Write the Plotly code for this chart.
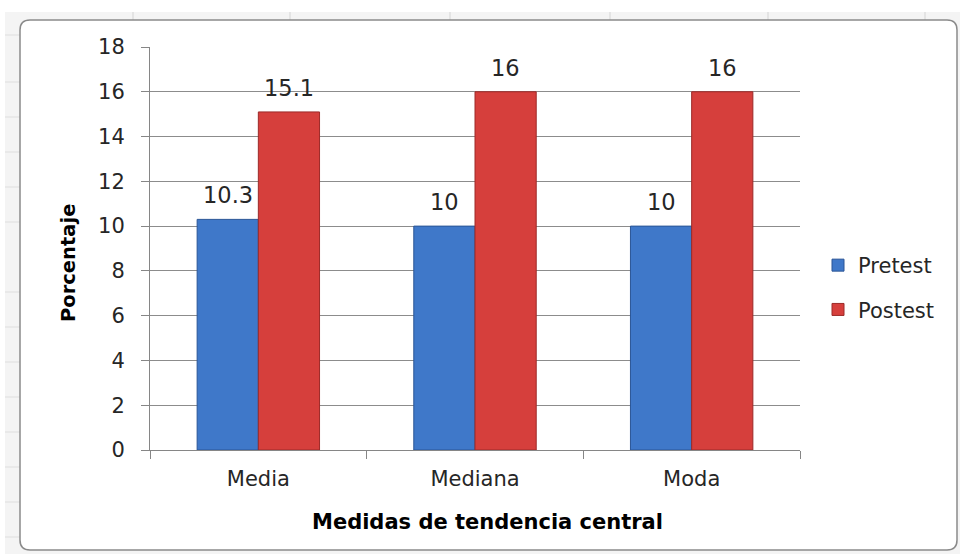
import plotly.graph_objects as go

categories = ["Media", "Mediana", "Moda"]
pretest = [10.3, 10, 10]
postest = [15.1, 16, 16]
pretest_labels = ["10.3", "10", "10"]
postest_labels = ["15.1", "16", "16"]
y_ticks = [0, 2, 4, 6, 8, 10, 12, 14, 16, 18]

FONT = "DejaVu Sans, sans-serif"
W, H = 960, 554
L, R, T, B = 150, 160, 47, 104
PW, PH = W - L - R, H - T - B
BARGAP = 0.435


def px(x):
    return (x - L) / PW


def py(y):
    return (H - B - y) / PH


fig = go.Figure()
fig.add_trace(go.Bar(
    x=categories, y=pretest, name="Pretest",
    marker=dict(color="#3f78c9", line=dict(color="#2a5596", width=1)),
    legendgroup="a",
))
fig.add_trace(go.Bar(
    x=categories, y=postest, name="Postest",
    marker=dict(color="#d63f3c", line=dict(color="#9c2a28", width=1)),
    legendgroup="b",
))

# data labels placed above each bar (category index +/- quarter of group width)
off = (1 - BARGAP) / 4
annotations = []
for i, (v, t) in enumerate(zip(pretest, pretest_labels)):
    annotations.append(dict(x=i - off, y=v, xref="x", yref="y", text=t,
                            showarrow=False, yshift=24, yanchor="middle",
                            font=dict(size=22.5, color="#262626")))
for i, (v, t) in enumerate(zip(postest, postest_labels)):
    annotations.append(dict(x=i + off, y=v, xref="x", yref="y", text=t,
                            showarrow=False, yshift=24, yanchor="middle",
                            font=dict(size=22.5, color="#262626")))
annotations += [
    dict(text="<b>Porcentaje</b>", xref="paper", yref="paper",
         x=px(68), y=py(263), textangle=-90, showarrow=False,
         font=dict(size=19.5, color="black"), xanchor="center", yanchor="middle"),
    dict(text="<b>Medidas de tendencia central</b>", xref="paper", yref="paper",
         x=px(487), y=py(522), showarrow=False,
         font=dict(size=21, color="black"), xanchor="center", yanchor="middle"),
]

shapes = []
shapes.append(dict(type="rect", xref="paper", yref="paper", layer="below",
                   x0=px(5), x1=px(960), y0=py(554), y1=py(12),
                   fillcolor="#f4f4f4", line=dict(width=0)))
for gx in [133, 290, 450, 610, 768, 925]:
    shapes.append(dict(type="line", xref="paper", yref="paper", layer="below",
                       x0=px(gx), x1=px(gx), y0=py(20), y1=py(12),
                       line=dict(color="#d4d4d4", width=1)))
for gy in [35, 82, 117, 152, 187, 222, 292, 327, 362, 397, 432, 467, 502, 537]:
    shapes.append(dict(type="line", xref="paper", yref="paper", layer="below",
                       x0=px(5), x1=px(20), y0=py(gy), y1=py(gy),
                       line=dict(color="#dedede", width=1)))
x0, x1, y0, y1, r = 20, 957, 20, 550, 10
path = (f"M {px(x0 + r)} {py(y0)} L {px(x1 - r)} {py(y0)} "
        f"Q {px(x1)} {py(y0)} {px(x1)} {py(y0 + r)} "
        f"L {px(x1)} {py(y1 - r)} Q {px(x1)} {py(y1)} {px(x1 - r)} {py(y1)} "
        f"L {px(x0 + r)} {py(y1)} Q {px(x0)} {py(y1)} {px(x0)} {py(y1 - r)} "
        f"L {px(x0)} {py(y0 + r)} Q {px(x0)} {py(y0)} {px(x0 + r)} {py(y0)} Z")
shapes.append(dict(type="path", xref="paper", yref="paper", layer="below",
                   path=path, fillcolor="white",
                   line=dict(color="#8a8a8a", width=1.5)))

fig.update_layout(
    width=W, height=H,
    margin=dict(l=L, r=R, t=T, b=B, pad=0),
    paper_bgcolor="white", plot_bgcolor="rgba(0,0,0,0)",
    barmode="group", bargap=BARGAP, bargroupgap=0,
    font=dict(family=FONT, size=20, color="#262626"),
    shapes=shapes,
    annotations=annotations,
    showlegend=True,
    legend=dict(x=px(818), y=py(245), xanchor="left", yanchor="top",
                font=dict(size=21, color="#262626"), tracegroupgap=14,
                bgcolor="rgba(0,0,0,0)", itemwidth=30),
    xaxis=dict(
        showgrid=False, showline=True, linecolor="#868686", linewidth=1,
        ticks="outside", ticklen=8, tickcolor="#868686", tickson="boundaries",
        tickfont=dict(size=21, color="#262626"), ticklabelstandoff=10,
        zeroline=False,
    ),
    yaxis=dict(
        range=[0, 18], tickvals=y_ticks, showgrid=True, gridcolor="#8c8c8c",
        gridwidth=1, showline=True, linecolor="#868686", linewidth=1,
        ticks="outside", ticklen=8, tickcolor="#868686",
        tickfont=dict(size=21, color="#262626"), ticklabelstandoff=12,
        zeroline=False,
    ),
)

fig.write_html("out.html", post_script="document.body.style.margin='0';",
               config={"displayModeBar": False})
